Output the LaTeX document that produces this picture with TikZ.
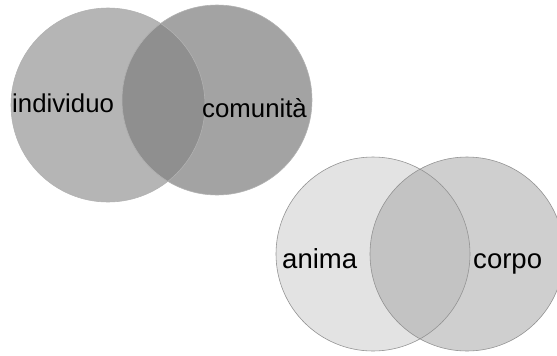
\documentclass[tikz,border=0pt]{standalone}
\usepackage{fontspec}
\setmainfont{Liberation Sans}
\usetikzlibrary{positioning}

\definecolor{indfill}{gray}{0.71}
\definecolor{comfill}{gray}{0.64}
\definecolor{bothfill}{gray}{0.56}
\definecolor{animafill}{gray}{0.89}
\definecolor{corpofill}{gray}{0.81}
\definecolor{unionfill}{gray}{0.765}

\tikzset{
  ring/.style={draw=gray!85, line width=0.5pt},
  word/.style={anchor=base west, inner sep=0pt, font=\fontsize{22}{26}\selectfont},
  bigword/.style={word, font=\fontsize{23.5}{28}\selectfont}
}

\begin{document}
\begin{tikzpicture}[x=0.03cm,y=-0.03cm]
        \useasboundingbox (0,0) rectangle (557,355);
        \clip (0,0) rectangle (557,355);

        \coordinate (I) at (108,105);
        \coordinate (C) at (217,100);
        \coordinate (A) at (373,254);
        \coordinate (P) at (467,254);

        % individuo / comunita
        \fill[indfill] (I) circle[radius=97];
        \fill[comfill] (C) circle[radius=95];
        \begin{scope}
          \clip (I) circle[radius=97];
          \fill[bothfill] (C) circle[radius=95];
        \end{scope}
        \draw[ring, draw=gray!60] (I) circle[radius=97];
        \draw[ring, draw=gray!60] (C) circle[radius=95];

        % anima / corpo
        \fill[animafill] (A) circle[radius=97];
        \fill[corpofill] (P) circle[radius=97];
        \begin{scope}
          \clip (A) circle[radius=97];
          \fill[unionfill] (P) circle[radius=97];
        \end{scope}
        \draw[ring] (A) circle[radius=97];
        \draw[ring] (P) circle[radius=97];

        \node[word] (ind) at (12,112) {individuo};
        \node[word] (com) at (202,117) {comunità};
        \node[bigword] (ani) at (282,268) {anima};
        \node[bigword] (cor) at (473,268) {corpo};

\end{tikzpicture}
\end{document}
